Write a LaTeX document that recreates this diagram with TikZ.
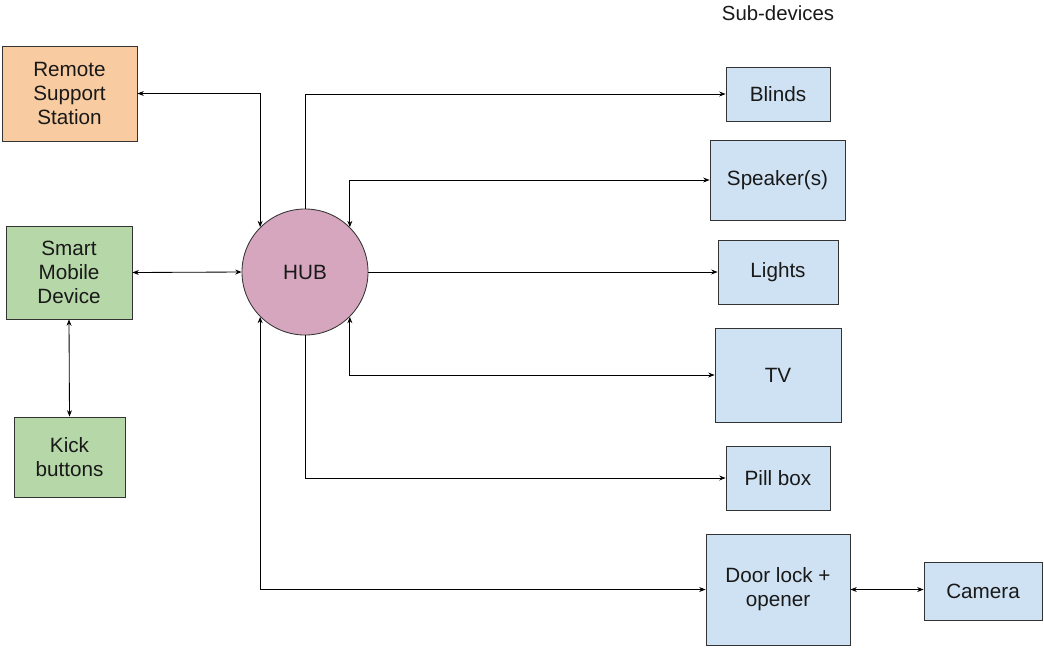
\documentclass[tikz,border=0pt]{standalone}
\usepackage{fontspec}
\setmainfont{Liberation Sans}
\usetikzlibrary{arrows.meta}

\definecolor{orangebox}{HTML}{F8CBA0}
\definecolor{greenbox}{HTML}{B6D7A8}
\definecolor{hubfill}{HTML}{D5A6BD}
\definecolor{bluebox}{HTML}{CFE2F3}

\tikzset{
  box/.style={draw=black!80, line width=0.6pt, align=center, inner sep=0pt,
    font=\fontsize{14.7}{17.2}\selectfont, text=black!90},
  link/.style={line width=0.6pt, >={Stealth[length=4.5pt,width=3.5pt]}}
}

\begin{document}
\begin{tikzpicture}[x=0.025cm, y=-0.025cm]
    \useasboundingbox (0,0) rectangle (1044,647);
    %left side
    \node[box, fill=orangebox, minimum width=3.375cm, minimum height=2.375cm] (remote) at (69.5,93.5) {Remote\\Support\\Station};
    \node[box, fill=greenbox, minimum width=3.15cm, minimum height=2.325cm] (smart) at (69,272.5) {Smart\\Mobile\\Device};
    \node[box, fill=greenbox, minimum width=2.775cm, minimum height=2cm] (kick) at (69.5,457) {Kick\\buttons};
    %hub
    \node[box, circle, fill=hubfill, minimum size=3.15cm] (hub) at (305,272) {HUB};
    %sub-devices
    \node[font=\fontsize{14.5}{17}\selectfont, text=black!90] (title) at (778,13) {Sub-devices};
    \node[box, fill=bluebox, minimum width=2.6cm, minimum height=1.35cm] (blinds) at (778,94) {Blinds};
    \node[box, fill=bluebox, minimum width=3.375cm, minimum height=2cm] (speaker) at (777.5,180) {Speaker(s)};
    \node[box, fill=bluebox, minimum width=3cm, minimum height=1.6cm] (lights) at (778,272) {Lights};
    \node[box, fill=bluebox, minimum width=3.15cm, minimum height=2.35cm] (tv) at (778,375) {TV};
    \node[box, fill=bluebox, minimum width=2.6cm, minimum height=1.6cm] (pill) at (778,478) {Pill box};
    \node[box, fill=bluebox, minimum width=3.6cm, minimum height=2.775cm] (door) at (778,589.5) {Door lock +\\opener};
    \node[box, fill=bluebox, minimum width=2.95cm, minimum height=1.45cm] (camera) at (983,591) {Camera};

    %links
    \draw[link, <->] (remote.east) -| (hub.135);
    \draw[link, <->] (smart.east) -- (hub.west);
    \draw[link, <->] (smart.south) -- (kick.north);
    \draw[link, ->] (hub.north) |- (blinds.west);
    \draw[link, <->] (hub.45) |- (speaker.west);
    \draw[link, ->] (hub.east) -- (lights.west);
    \draw[link, <->] (hub.-45) |- (tv.west);
    \draw[link, ->] (hub.south) |- (pill.west);
    \draw[link, <->] (hub.-135) |- (door.west);
    \draw[link, <->] (door.east) -- (camera.west |- door.east);
\end{tikzpicture}
\end{document}
